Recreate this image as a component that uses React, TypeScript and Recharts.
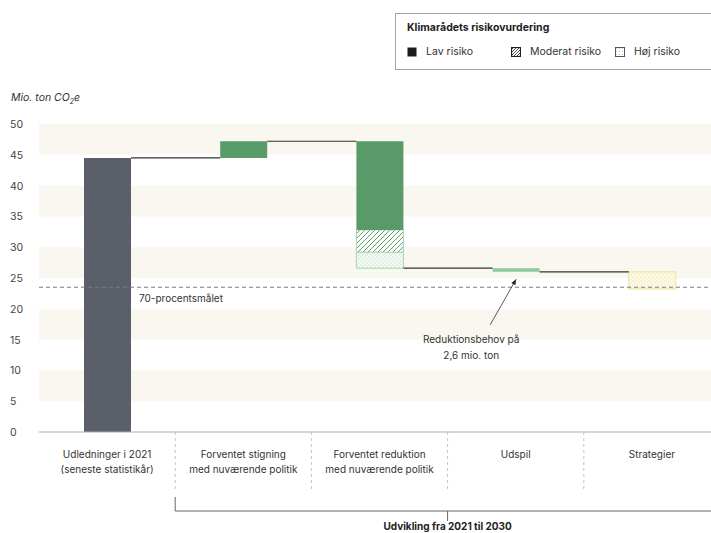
import React from "react";
import {
  ComposedChart,
  Bar,
  Cell,
  XAxis,
  YAxis,
  ReferenceArea,
} from "recharts";

// categories and waterfall values (Mio. ton CO2e)
const categories = [
  "Udledninger i 2021\n(seneste statistikår)",
  "Forventet stigning\nmed nuværende politik",
  "Forventet reduktion\nmed nuværende politik",
  "Udspil",
  "Strategier",
];
const base = [0, 44.5, 26.6, 26.0, 23.2];
const lavRisiko = [44.5, 2.7, 14.4, 0.6, 0];
const moderatRisiko = [0, 0, 3.6, 0, 0];
const hoejRisiko = [0, 0, 2.6, 0, 2.8];
// running level carried from one step to the next
const levels = [44.5, 47.2, 26.6, 26.0];
const yTicks = [0, 5, 10, 15, 20, 25, 30, 35, 40, 45, 50];
const bandStarts = [5, 15, 25, 35, 45];
const target = 23.5;
const targetLabel = "70-procentsmålet";
// annotation arrow: points at the Udspil step
const arrowCategory = 3;
const arrowTipY = 24.8;
const arrowTailY = 17.4;
const arrowTailShift = -0.19; // in category widths
const arrowText = ["Reduktionsbehov på", "2,6 mio. ton"];

const FONT = "Inter, 'Noto Sans', sans-serif";
const W = 720;
const H = 533;
const PLOT_LEFT = 39;
const PLOT_BOTTOM = 432;
const BAND = (W - PLOT_LEFT) / categories.length;
const BAR = 47;

const lavColors = ["#5b5f6a", "#589b68", "#589b68", "#8ec79b", "#589b68"];
const hoejFills = ["none", "none", "url(#dotGreen)", "none", "url(#dotYellow)"];
const hoejStrokes = ["none", "none", "#a8d4b3", "none", "#eee39a"];

const data = categories.map((name, i) => ({
  name,
  base: base[i],
  lav: lavRisiko[i],
  moderat: moderatRisiko[i],
  hoej: hoejRisiko[i],
  level: i < levels.length ? levels[i] : null,
  arrow: i === arrowCategory,
  target: i === 0,
}));

const YTick = ({ y, payload }: any) => (
  <text x={10} y={y + 4} fontSize={10.5} fill="#444" fontFamily={FONT}>
    {payload.value}
  </text>
);

const XTick = ({ x, payload, index }: any) => {
  const lines = String(payload.value).split("\n");
  return (
    <g>
      {index > 0 && (
        <line
          x1={x - BAND / 2}
          x2={x - BAND / 2}
          y1={PLOT_BOTTOM}
          y2={PLOT_BOTTOM + 58}
          stroke="#c4c4c4"
          strokeDasharray="3 3"
        />
      )}
      {lines.map((l, k) => (
        <text
          key={k}
          x={x}
          y={PLOT_BOTTOM + 26 + k * 15}
          textAnchor="middle"
          fontSize={10}
          fill="#333"
          fontFamily={FONT}
        >
          {l}
        </text>
      ))}
    </g>
  );
};

// draws the waterfall connector to the next step, the 70 % target line
// and the annotation arrow, on top of the bars
const OverlayShape = (props: any) => {
  const { x, y, width, height, payload } = props;
  const v = payload.level;
  if (v == null || !height) return null;
  const ppu = height / v;
  const yOf = (t: number) => y + height - t * ppu;
  const parts: React.ReactNode[] = [
    <line
      key="c"
      x1={x + width}
      x2={x + BAND}
      y1={y}
      y2={y}
      stroke="#333"
      strokeWidth={1.2}
    />,
  ];
  if (payload.target) {
    const ty = yOf(target);
    parts.push(
      <g key="t">
        <line
          x1={PLOT_LEFT}
          x2={W}
          y1={ty}
          y2={ty}
          stroke="#7a7a7a"
          strokeDasharray="4 3"
          strokeWidth={1}
        />
        <text x={PLOT_LEFT + 100} y={ty + 15} fontSize={10} fill="#333" fontFamily={FONT}>
          {targetLabel}
        </text>
      </g>
    );
  }
  if (payload.arrow) {
    const x2 = x + width / 2;
    const y2 = yOf(arrowTipY);
    const x1 = x2 + arrowTailShift * BAND;
    const y1 = yOf(arrowTailY);
    const ang = Math.atan2(y2 - y1, x2 - x1);
    const s = 6;
    const p2 = `${x2 - s * Math.cos(ang - 0.4)},${y2 - s * Math.sin(ang - 0.4)}`;
    const p3 = `${x2 - s * Math.cos(ang + 0.4)},${y2 - s * Math.sin(ang + 0.4)}`;
    parts.push(
      <g key="a">
        <line x1={x1} y1={y1} x2={x2} y2={y2} stroke="#333" strokeWidth={0.8} />
        <polygon points={`${x2},${y2} ${p2} ${p3}`} fill="#222" />
        {arrowText.map((t, k) => (
          <text
            key={k}
            x={x1 - 19}
            y={y1 + 18 + k * 16}
            textAnchor="middle"
            fontSize={10}
            fill="#333"
            fontFamily={FONT}
          >
            {t}
          </text>
        ))}
      </g>
    );
  }
  return <g>{parts}</g>;
};

const LegendIcon = ({ kind }: { kind: string }) => (
  <svg width={10} height={10} style={{ display: "block" }}>
    <defs>
      <pattern id="lgHatch" width="3" height="3" patternUnits="userSpaceOnUse">
        <path d="M-1,1 l2,-2 M0,3 l3,-3 M2,4 l2,-2" stroke="#222" strokeWidth="0.8" />
      </pattern>
      <pattern id="lgDot" width="3" height="3" patternUnits="userSpaceOnUse">
        <circle cx="1.5" cy="1.5" r="0.6" fill="#bbb" />
      </pattern>
    </defs>
    {kind === "lav" && <rect x={0.5} y={0.5} width={9} height={9} fill="#1b1d20" />}
    {kind === "mod" && (
      <rect x={0.5} y={0.5} width={9} height={9} fill="url(#lgHatch)" stroke="#222" strokeWidth={1.2} />
    )}
    {kind === "hoj" && (
      <rect x={0.5} y={0.5} width={9} height={9} fill="url(#lgDot)" stroke="#555" strokeWidth={1} />
    )}
  </svg>
);

export default function App() {
  const bracketMid = PLOT_LEFT + BAND + (W - PLOT_LEFT - BAND) / 2;
  return (
    <div
      style={{
        position: "fixed",
        left: 0,
        top: 0,
        width: 711,
        height: 533,
        overflow: "hidden",
        background: "#fff",
        fontFamily: FONT,
      }}
    >
      <ComposedChart
        width={W}
        height={H}
        data={data}
        margin={{ top: 124, right: 0, bottom: 41, left: 0 }}
      >
        <defs>
          <pattern id="hatchGreen" width="5" height="5" patternUnits="userSpaceOnUse">
            <rect width="5" height="5" fill="#fff" />
            <path d="M-1,1 l2,-2 M0,5 l5,-5 M4,6 l2,-2" stroke="#5d9f6d" strokeWidth="1" />
          </pattern>
          <pattern id="dotGreen" width="4" height="4" patternUnits="userSpaceOnUse">
            <rect width="4" height="4" fill="#f3f9f4" />
            <circle cx="1" cy="1" r="0.7" fill="#c6e2cc" />
            <circle cx="3" cy="3" r="0.7" fill="#c6e2cc" />
          </pattern>
          <pattern id="dotYellow" width="4" height="4" patternUnits="userSpaceOnUse">
            <rect width="4" height="4" fill="#fcf9e4" />
            <circle cx="1" cy="1" r="0.7" fill="#f1e8b2" />
            <circle cx="3" cy="3" r="0.7" fill="#f1e8b2" />
          </pattern>
        </defs>

        <XAxis
          xAxisId="cat"
          dataKey="name"
          height={60}
          interval={0}
          tickLine={false}
          axisLine={{ stroke: "#a9adb5" }}
          tick={<XTick />}
        />
        <XAxis xAxisId="overlay" dataKey="name" hide />
        <YAxis
          width={PLOT_LEFT}
          domain={[0, 50]}
          ticks={yTicks}
          interval={0}
          axisLine={false}
          tickLine={false}
          tick={<YTick />}
        />

        {bandStarts.map((b) => (
          <ReferenceArea
            key={b}
            xAxisId="cat"
            y1={b}
            y2={b + 5}
            fill="#faf6f0"
            fillOpacity={1}
            stroke="none"
          />
        ))}

        <Bar xAxisId="cat" dataKey="base" stackId="w" fill="transparent" barSize={BAR} isAnimationActive={false} />
        <Bar xAxisId="cat" dataKey="hoej" stackId="w" barSize={BAR} isAnimationActive={false}>
          {data.map((_, i) => (
            <Cell key={i} fill={hoejFills[i]} stroke={hoejStrokes[i]} strokeWidth={1} />
          ))}
        </Bar>
        <Bar
          xAxisId="cat"
          dataKey="moderat"
          stackId="w"
          barSize={BAR}
          fill="url(#hatchGreen)"
          stroke="#a8d4b3"
          strokeWidth={1}
          isAnimationActive={false}
        />
        <Bar xAxisId="cat" dataKey="lav" stackId="w" barSize={BAR} isAnimationActive={false}>
          {data.map((_, i) => (
            <Cell key={i} fill={lavColors[i]} />
          ))}
        </Bar>
        <Bar
          xAxisId="overlay"
          dataKey="level"
          barSize={BAR}
          fill="none"
          shape={<OverlayShape />}
          isAnimationActive={false}
        />
      </ComposedChart>

      {/* y axis title */}
      <div
        style={{
          position: "absolute",
          left: 11,
          top: 91,
          fontSize: 10.5,
          fontStyle: "italic",
          color: "#333",
        }}
      >
        Mio. ton CO<sub style={{ fontSize: 7 }}>2</sub>e
      </div>

      {/* bracket under the steps 2021-2030 */}
      <svg
        width={711}
        height={533}
        style={{ position: "absolute", left: 0, top: 0, pointerEvents: "none" }}
      >
        <path
          d={`M${PLOT_LEFT + BAND},497 V511 H${W} M${bracketMid},511 V521`}
          stroke="#666"
          strokeWidth={1}
          fill="none"
        />
        <text
          x={bracketMid}
          y={530}
          textAnchor="middle"
          fontSize={10}
          fontWeight={700}
          fill="#222"
          fontFamily={FONT}
        >
          Udvikling fra 2021 til 2030
        </text>
      </svg>

      {/* risk legend */}
      <div
        style={{
          position: "absolute",
          left: 395,
          top: 13,
          width: 340,
          height: 57,
          border: "1px solid #a5a5a5",
          boxSizing: "border-box",
        }}
      >
        <div
          style={{
            position: "absolute",
            left: 11,
            top: 7,
            fontSize: 10.5,
            fontWeight: 700,
            color: "#222",
          }}
        >
          Klimarådets risikovurdering
        </div>
        {[
          { kind: "lav", label: "Lav risiko", left: 11 },
          { kind: "mod", label: "Moderat risiko", left: 115 },
          { kind: "hoj", label: "Høj risiko", left: 219 },
        ].map((it) => (
          <div
            key={it.kind}
            style={{
              position: "absolute",
              left: it.left,
              top: 31,
              display: "flex",
              alignItems: "center",
              gap: 9,
              fontSize: 10.5,
              color: "#333",
            }}
          >
            <LegendIcon kind={it.kind} />
            <span>{it.label}</span>
          </div>
        ))}
      </div>
    </div>
  );
}
